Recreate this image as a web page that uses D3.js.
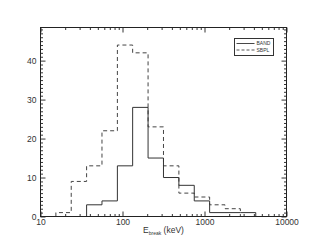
<!DOCTYPE html>
<html>
<head>
<meta charset="utf-8">
<script src="https://cdn.jsdelivr.net/npm/d3@7"></script>
<style>
body { margin: 0; background: #fff; }
svg { display: block; font-family: "Liberation Sans", Arial, sans-serif; }
</style>
</head>
<body>
<svg id="graphe" width="311" height="249"></svg>
<script>

//-------------------Données-----------------------------------------------------------

var bornes = [15.4, 23.7, 36.5, 56.2, 86.6, 133, 205, 316, 487, 750, 1155, 1778, 2738, 4217];
var sbpl = [1, 9, 13, 22, 44, 42, 23, 13, 6, 5, 3, 2];
var band = [3, 4, 13, 28, 15, 10, 8, 4, 1, 1, 1];
var debutBand = 2; // BAND commence à la 3e borne
var ticksX = [10, 100, 1000, 10000];
var ticksY = [0, 10, 20, 30, 40];
var legende = ["BAND", "SBPL"];

var gauche = 40.5, droite = 286.5, haut = 27.5, bas = 216.5;

var x = d3.scaleLog().domain([10, 10000]).range([gauche, droite]);
var y = d3.scaleLinear().domain([0, 48.5]).range([bas, haut]);

var svg = d3.select("#graphe");

//-------------------Histogramme en escalier----------------------------------------

function escalier(valeurs, debut) {
    var points = [[bornes[debut], 0]];
    for (var i = 0; i < valeurs.length; i++) {
        points.push([bornes[debut + i], valeurs[i]]);
        points.push([bornes[debut + i + 1], valeurs[i]]);
    }
    points.push([bornes[debut + valeurs.length], 0]);
    return points;
}

var ligne = d3.line()
    .x(function(d) { return x(d[0]); })
    .y(function(d) { return y(d[1]); });

svg.append("path")
    .attr("d", ligne(escalier(sbpl, 0)))
    .attr("fill", "none")
    .attr("stroke", "#444")
    .attr("stroke-width", 1)
    .attr("stroke-dasharray", "4,3");

svg.append("path")
    .attr("d", ligne(escalier(band, debutBand)))
    .attr("fill", "none")
    .attr("stroke", "#333")
    .attr("stroke-width", 1);

//-------------------Axes (graduations vers l'intérieur)----------------------------------------

function styleAxe(g) {
    g.select(".domain").remove();
    g.selectAll("line").attr("stroke", "#333");
    g.selectAll("text").attr("fill", "#333").style("font-size", "8.5px").style("font-family", "'Liberation Sans', Arial, sans-serif");
}

var mineursX = x.ticks().filter(function(t) { return ticksX.indexOf(t) < 0; });
var mineursY = d3.range(1, 49).filter(function(t) { return t % 10 != 0; });

svg.append("g").attr("transform", "translate(0," + bas + ")")
    .call(d3.axisBottom(x).tickValues(ticksX).tickSizeInner(-5).tickSizeOuter(0).tickPadding(2).tickFormat(d3.format("d")))
    .call(styleAxe);
svg.append("g").attr("transform", "translate(0," + bas + ")")
    .call(d3.axisBottom(x).tickValues(mineursX).tickSizeInner(-2.5).tickSizeOuter(0).tickFormat(""))
    .call(styleAxe);

svg.append("g").attr("transform", "translate(0," + haut + ")")
    .call(d3.axisTop(x).tickValues(ticksX).tickSizeInner(-5).tickSizeOuter(0).tickFormat(""))
    .call(styleAxe);
svg.append("g").attr("transform", "translate(0," + haut + ")")
    .call(d3.axisTop(x).tickValues(mineursX).tickSizeInner(-2.5).tickSizeOuter(0).tickFormat(""))
    .call(styleAxe);

svg.append("g").attr("transform", "translate(" + gauche + ",0)")
    .call(d3.axisLeft(y).tickValues(ticksY).tickSizeInner(-5).tickSizeOuter(0).tickPadding(4).tickFormat(d3.format("d")))
    .call(styleAxe);
svg.append("g").attr("transform", "translate(" + gauche + ",0)")
    .call(d3.axisLeft(y).tickValues(mineursY).tickSizeInner(-2.5).tickSizeOuter(0).tickFormat(""))
    .call(styleAxe);

svg.append("g").attr("transform", "translate(" + droite + ",0)")
    .call(d3.axisRight(y).tickValues(ticksY).tickSizeInner(-5).tickSizeOuter(0).tickFormat(""))
    .call(styleAxe);
svg.append("g").attr("transform", "translate(" + droite + ",0)")
    .call(d3.axisRight(y).tickValues(mineursY).tickSizeInner(-2.5).tickSizeOuter(0).tickFormat(""))
    .call(styleAxe);

// cadre
svg.append("rect")
    .attr("x", gauche).attr("y", haut)
    .attr("width", droite - gauche).attr("height", bas - haut)
    .attr("fill", "none").attr("stroke", "#222").attr("stroke-width", 1);

//-------------------Titre de l'axe X----------------------------------------

var titre = svg.append("text")
    .attr("x", (gauche + droite) / 2)
    .attr("y", 233)
    .attr("text-anchor", "middle")
    .attr("fill", "#333")
    .style("font-size", "8.5px");
titre.append("tspan").text("E");
titre.append("tspan").attr("dy", 2).style("font-size", "5px").text("break");
titre.append("tspan").attr("dy", -2).text(" (keV)");

//-------------------Légende----------------------------------------

var leg = svg.append("g").attr("transform", "translate(234.5,38.5)");
leg.append("rect")
    .attr("width", 39).attr("height", 17)
    .attr("fill", "#fff").attr("stroke", "#333").attr("stroke-width", 1);

leg.selectAll(".item")
    .data(legende)
    .enter().append("g")
    .attr("transform", function(d, i) { return "translate(0," + (5 + i * 6.5) + ")"; })
    .each(function(d, i) {
        var g = d3.select(this);
        g.append("line")
            .attr("x1", 2).attr("x2", 20)
            .attr("stroke", i == 0 ? "#333" : "#444")
            .attr("stroke-width", 0.9)
            .attr("stroke-dasharray", i == 0 ? null : "3,2");
        g.append("text")
            .attr("x", 22).attr("y", 1.8)
            .attr("fill", "#333")
            .style("font-size", "5px")
            .text(d);
    });

</script>
</body>
</html>
